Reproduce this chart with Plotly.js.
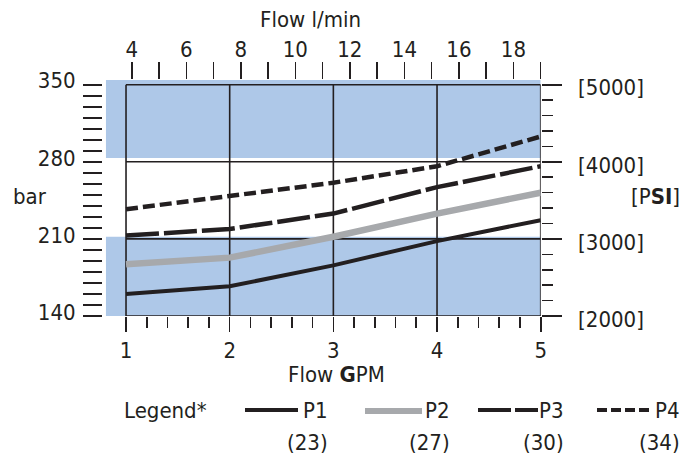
<!DOCTYPE html>
<html>
<head>
<meta charset="utf-8">
<script src="https://cdn.plot.ly/plotly-3.0.1.min.js"></script>
<style>html,body{margin:0;padding:0;background:#fff;}#chart{width:681px;height:454px;}</style>
</head>
<body>
<div id="chart"></div>
<script>
// ---- data ----
const flowGPM = [1, 2, 3, 4, 5];
const seriesNames = ['P1', 'P2', 'P3', 'P4'];
const seriesCodes = ['(23)', '(27)', '(30)', '(34)'];
const p1 = [160, 167, 186, 208, 227];
const p2 = [187, 193, 212, 233, 252];
const p3 = [213, 219, 233, 257, 276];
const p4 = [237, 249, 261, 276, 303];
const barTicks = [140, 210, 280, 350];
const psiTickText = ['[2000]', '[3000]', '[4000]', '[5000]'];
const lpmPerGpm = 3.785;

// ---- layout geometry ----
const W = 681, H = 454, ML = 60, MR = 60, MT = 80, MB = 138;
const PW = W - ML - MR, PH = H - MT - MB;
const px = p => (p - ML) / PW;
const py = p => (H - MB - p) / PH;
const xRange = [0.805, 5];
const yRange = [140, 354.3];
const ink = '#231f20';
const band = '#aec8e8';
const FONT = '"Liberation Sans Narrow", "Arial Narrow", "DejaVu Sans Condensed", sans-serif';
const fnt = {family: FONT, size: 22, color: ink};

const styles = [
  {color: ink, width: 4, dash: 'solid'},
  {color: '#a7a9ac', width: 6.5, dash: 'solid'},
  {color: ink, width: 4.5, dash: '33px,5px'},
  {color: ink, width: 4.5, dash: '12px,5px'}
];
const series = [p1, p2, p3, p4];
const traces = series.map((vals, i) => ({
  type: 'scatter', mode: 'lines', x: flowGPM, y: vals, name: seriesNames[i],
  line: styles[i], hoverinfo: 'skip'
}));
// empty trace that registers the secondary (l/min, PSI) axes so they are drawn
traces.push({type: 'scatter', mode: 'lines', x: [], y: [], xaxis: 'x2', yaxis: 'y2', hoverinfo: 'skip', showlegend: false});

const shapes = [];
// blue bands
shapes.push({type: 'rect', xref: 'x', yref: 'y', x0: xRange[0], x1: 5, y0: 140, y1: 212, fillcolor: band, line: {width: 0}, layer: 'below'});
shapes.push({type: 'rect', xref: 'x', yref: 'y', x0: xRange[0], x1: 5, y0: 283.5, y1: yRange[1], fillcolor: band, line: {width: 0}, layer: 'below'});
// grid
flowGPM.forEach(g => shapes.push({type: 'line', xref: 'x', yref: 'y', x0: g, x1: g, y0: 140, y1: 350, line: {color: ink, width: 1.6}, layer: 'below'}));
barTicks.forEach(b => shapes.push({type: 'line', xref: 'x', yref: 'y', x0: 1, x1: 5, y0: b, y1: b, line: {color: ink, width: 1.6}, layer: 'below'}));

// legend samples
const legLines = [[245, 298, 410], [365, 422, 411], [478, 538, 410], [597, 652, 410]];
legLines.forEach((l, i) => shapes.push({type: 'line', xref: 'paper', yref: 'paper',
  x0: px(l[0]), x1: px(l[1]), y0: py(l[2]), y1: py(l[2]),
  line: {color: styles[i].color, width: i === 1 ? 6 : 3.8, dash: i === 2 ? '33px,4px' : (i === 3 ? '10px,4px' : 'solid')}}));

const ann = (text, x, y, xanchor) => ({text, xref: 'paper', yref: 'paper', x: px(x), y: py(y),
  xanchor: xanchor || 'center', yanchor: 'middle', showarrow: false, font: fnt, borderpad: 0});
const annotations = [
  ann('Flow l/min', 310.5, 19),
  ann('Flow <b>G</b>PM', 336, 374),
  ann('bar', 12, 196, 'left'),
  ann('[P<b>SI</b>]', 630, 196, 'left'),
  ann('Legend*', 123, 410, 'left')
];
const legRight = [329, 451, 565, 681];
seriesNames.forEach((n, i) => {
  annotations.push(ann(n, legRight[i], 410, 'right'));
  annotations.push(ann(seriesCodes[i], legRight[i], 442, 'right'));
});

const layout = {
  width: W, height: H,
  margin: {l: ML, r: MR, t: MT, b: MB, pad: 0},
  paper_bgcolor: '#fff', plot_bgcolor: 'rgba(0,0,0,0)',
  showlegend: false, hovermode: false,
  font: fnt,
  xaxis: {
    domain: [px(105.8), px(540.7)], range: xRange, anchor: 'y',
    showgrid: false, zeroline: false, showline: false,
    tickmode: 'linear', tick0: 1, dtick: 1,
    ticks: 'outside', ticklen: 15, tickwidth: 1.6, tickcolor: ink,
    ticklabelstandoff: 0, tickfont: fnt,
    minor: {tickmode: 'linear', tick0: 1, dtick: 0.2, ticks: 'outside', ticklen: 11, tickwidth: 1.6, tickcolor: ink, showgrid: false}
  },
  xaxis2: {
    overlaying: 'x', side: 'top', anchor: 'y',
    range: [xRange[0] * lpmPerGpm, 19.0005],
    showgrid: false, zeroline: false, showline: false,
    tickmode: 'linear', tick0: 4, dtick: 2,
    ticks: 'outside', ticklen: 17, tickwidth: 1.6, tickcolor: ink,
    ticklabelstandoff: -4, tickfont: fnt,
    minor: {tickmode: 'linear', tick0: 4, dtick: 1, ticks: 'outside', ticklen: 17, tickwidth: 1.6, tickcolor: ink, showgrid: false}
  },
  yaxis: {
    range: yRange, anchor: 'free', position: px(102), side: 'left',
    showgrid: false, zeroline: false, showline: false,
    tickmode: 'array', tickvals: barTicks,
    ticks: 'outside', ticklen: 19, tickwidth: 1.6, tickcolor: ink,
    ticklabelstandoff: 3, ticklabelshift: -4, tickfont: fnt,
    minor: {tickmode: 'linear', tick0: 140, dtick: 10, ticks: 'outside', ticklen: 19, tickwidth: 1.6, tickcolor: ink, showgrid: false}
  },
  yaxis2: {
    range: yRange, overlaying: 'y', side: 'right', anchor: 'x',
    showgrid: false, zeroline: false, showline: false,
    tickmode: 'array', tickvals: barTicks, ticktext: psiTickText,
    ticks: 'outside', ticklen: 20, tickwidth: 1.6, tickcolor: ink,
    ticklabelstandoff: 12, ticklabelshift: 3, tickfont: fnt,
    minor: {tickmode: 'linear', tick0: 140, dtick: 14, ticks: 'outside', ticklen: 11, tickwidth: 1.6, tickcolor: ink, showgrid: false}
  },
  shapes, annotations
};

Plotly.newPlot('chart', traces, layout, {staticPlot: true, displayModeBar: false});
</script>
</body>
</html>
